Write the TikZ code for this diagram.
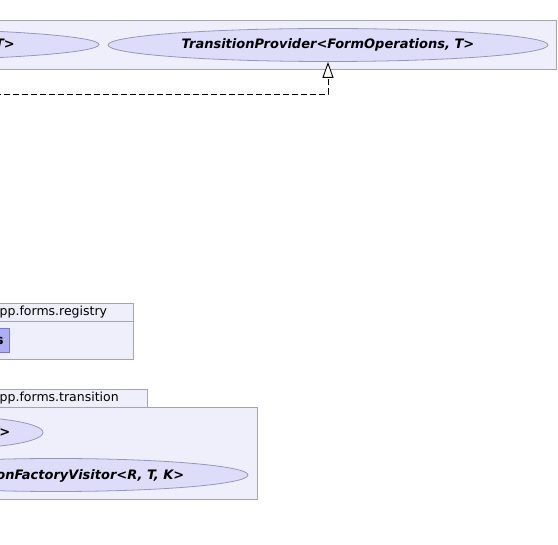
\documentclass[tikz,border=0pt]{standalone}
\usepackage{fontspec}
\setmainfont{DejaVu Sans}
\usetikzlibrary{shapes.geometric,arrows.meta}
\definecolor{pkgfill}{RGB}{239,239,252}
\definecolor{pkgdraw}{RGB}{165,165,178}
\definecolor{ucfill}{RGB}{221,221,250}
\definecolor{ucdraw}{RGB}{150,150,190}
\definecolor{clsfill}{RGB}{174,174,242}
\definecolor{clsdraw}{RGB}{120,120,200}
\tikzset{
  pkgbox/.style={draw=pkgdraw, fill=pkgfill, line width=1pt, inner sep=0, anchor=north west},
  ucase/.style={ellipse, draw=ucdraw, fill=ucfill, line width=0.8pt, inner sep=0},
  uclabel/.style={font=\fontsize{13}{15}\selectfont\bfseries\itshape, inner sep=0},
  pkglabel/.style={font=\fontsize{12.5}{15}\selectfont, inner sep=0},
  clsbox/.style={draw=clsdraw, fill=clsfill, line width=0.8pt, inner sep=0, anchor=north west},
  dep/.style={line width=0.9pt, dash pattern=on 6pt off 3pt, -{Triangle[open, fill=white, length=16pt, width=11pt]}}
}
\begin{document}
\begin{tikzpicture}[x=1pt,y=-1pt]
\useasboundingbox (0,0) rectangle (558,545);
\clip (0,0) rectangle (558,545);
\fill[white] (0,0) rectangle (558,545);

% top package
\node[pkgbox, minimum width=565.5pt, minimum height=48.5pt] (ptop) at (-10,20.5) {};
\node[ucase, minimum width=514pt, minimum height=33pt] (e1) at (-158,44.5) {};
\node[uclabel, anchor=base east] (t1) at (15,48.5) {T>};
\node[ucase, minimum width=440pt, minimum height=33pt] (e2) at (328,45) {};
\node[uclabel, anchor=base] (t2) at (328,48.8) {TransitionProvider<FormOperations, T>};

% dependency
\coordinate (a0) at (-5,94);
\coordinate (a1) at (328,94);
\draw[dep] (a0) -- (a1) -- (e2.south);

% registry package
\node[pkgbox, minimum width=142.7pt, minimum height=18pt] (regtab) at (-10,302.7) {};
\node[pkgbox, minimum width=142.7pt, minimum height=38.3pt] (regbody) at (-10,320.7) {};
\node[pkglabel, anchor=base west] (reglabel) at (-0.5,315.6) {pp.forms.registry};
\node[clsbox, minimum width=19.3pt, minimum height=24pt] (cls) at (-10,327.7) {};
\node[uclabel, font=\fontsize{13}{15}\selectfont\bfseries, anchor=base east] (clslabel) at (3.8,344.5) {s};

% transition package
\node[pkgbox, minimum width=156.7pt, minimum height=17.7pt] (trtab) at (-10,389) {};
\node[pkgbox, minimum width=266.7pt, minimum height=92.3pt] (trbody) at (-10,406.7) {};
\node[pkglabel, anchor=base west] (trlabel) at (-0.5,401.7) {pp.forms.transition};
\node[ucase, minimum width=184pt, minimum height=32pt] (e3) at (-49,432.5) {};
\node[uclabel, anchor=base east] (t3) at (10.5,436.8) {T>};
\node[ucase, minimum width=384pt, minimum height=33pt] (e4) at (56,475) {};
\node[uclabel, anchor=base east] (t4) at (184.5,479.5) {onFactoryVisitor<R, T, K>};
\end{tikzpicture}
\end{document}
